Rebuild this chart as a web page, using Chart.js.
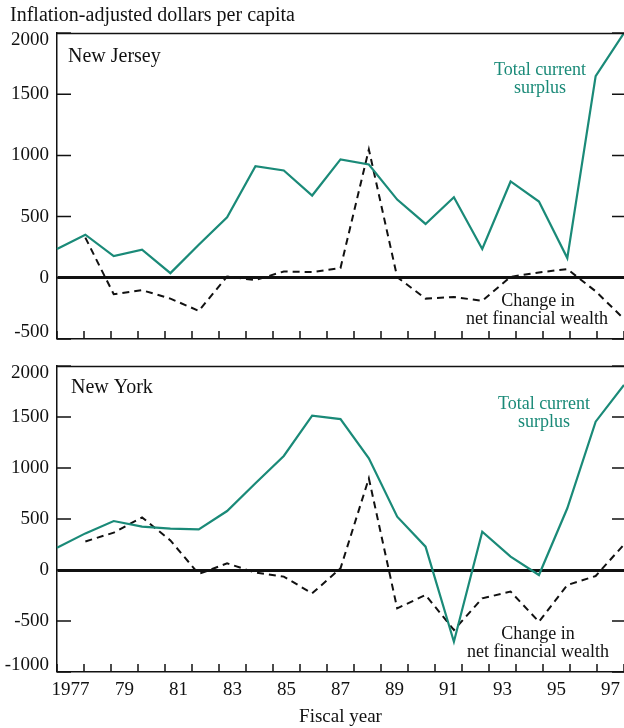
<!DOCTYPE html>
<html><head><meta charset="utf-8">
<script src="https://cdn.jsdelivr.net/npm/chart.js@4/dist/chart.umd.min.js"></script>
<style>
html,body{margin:0;padding:0;background:#fff;}
body{width:624px;height:728px;position:relative;overflow:hidden;font-family:'Liberation Serif','Times New Roman',serif;}
#hdr{position:absolute;left:10px;top:4px;font-size:20px;line-height:20px;color:#111;white-space:nowrap;}
#c1{position:absolute;left:0;top:0;}
#c2{position:absolute;left:0;top:345px;}
</style></head><body>
<canvas id="c1" width="624" height="345"></canvas>
<canvas id="c2" width="624" height="383"></canvas>
<div id="hdr">Inflation-adjusted dollars per capita</div>
<script>
// ---- data ----
const years = [1977,1978,1979,1980,1981,1982,1983,1984,1985,1986,1987,1988,1989,1990,1991,1992,1993,1994,1995,1996,1997];
const tickLabels = ['1977','79','81','83','85','87','89','91','93','95','97'];
const njSurplus = [235,352,178,230,38,270,495,912,877,672,967,926,639,440,658,235,787,623,161,1648,2000];
const njWealth  = [null,328,-134,-101,-170,-270,11,-19,52,47,80,1049,5,-170,-156,-189,8,44,71,-110,-336];
const nySurplus = [219,359,480,425,405,399,578,850,1118,1513,1480,1095,523,229,-703,376,131,-49,605,1454,1814];
const nyWealth  = [null,280,366,516,290,-39,65,-25,-65,-229,16,899,-376,-245,-588,-278,-212,-507,-147,-59,250];
const njYTicks = [-500,0,500,1000,1500,2000];
const nyYTicks = [-1000,-500,0,500,1000,1500,2000];

// ---- style ----
const FONT = "'Liberation Serif','Times New Roman',serif";
const TEAL = '#1a8a78';
const INK = '#111111';

function framePlugin(notes) {
  return {
    id: 'frame',
    afterDraw(chart) {
      const ctx = chart.ctx, a = chart.chartArea;
      const y = chart.scales.y, xt = chart.scales.xt;
      ctx.save();
      ctx.strokeStyle = INK;
      ctx.lineWidth = 1.5;
      ctx.beginPath();
      ctx.moveTo(a.left, a.top + 0.5);
      ctx.lineTo(a.right, a.top + 0.5);
      y.ticks.forEach(t => {
        const py = y.getPixelForValue(t.value);
        ctx.moveTo(a.left, py); ctx.lineTo(a.left + 14, py);
        ctx.moveTo(a.right - 12, py); ctx.lineTo(a.right, py);
      });
      for (let k = Math.ceil(xt.min); k <= xt.max; k++) {
        const px = xt.getPixelForValue(k);
        ctx.moveTo(px, a.bottom); ctx.lineTo(px, a.bottom - 8);
      }
      ctx.stroke();
      notes.forEach(n => {
        ctx.font = n.size + 'px ' + FONT;
        ctx.fillStyle = n.color;
        ctx.textAlign = n.align;
        ctx.textBaseline = 'alphabetic';
        ctx.fillText(n.text, n.x, n.y);
      });
      ctx.restore();
    }
  };
}

function makeChart(id, surplus, wealth, yTicks, padTop, xHeight, showX, notes) {
  const yMin = yTicks[0], yMax = yTicks[yTicks.length - 1];
  return new Chart(document.getElementById(id), {
    type: 'line',
    data: {
      labels: years.map(String),
      datasets: [
        { data: surplus, borderColor: TEAL, borderWidth: 2.2, pointRadius: 0, tension: 0, fill: false, xAxisID: 'x', yAxisID: 'y' },
        { data: wealth, borderColor: INK, borderWidth: 2, borderDash: [7,5], pointRadius: 0, tension: 0, fill: false, spanGaps: false, xAxisID: 'x', yAxisID: 'y' }
      ]
    },
    options: {
      responsive: false, animation: false, devicePixelRatio: 1,
      layout: { padding: { top: padTop, left: 0, right: 0, bottom: 0 } },
      plugins: { legend: { display: false }, tooltip: { enabled: false }, title: { display: false } },
      scales: {
        x: { type: 'category', display: false, offset: false },
        xt: {
          type: 'linear', position: 'bottom', min: 0, max: 21,
          afterBuildTicks: s => { s.ticks = tickLabels.map((_, i) => ({ value: 0.5 + 2 * i })); },
          afterFit: s => { s.height = xHeight; s.paddingLeft = 0; s.paddingRight = 0; },
          border: { display: true, color: INK, width: 1.5 },
          grid: { display: false, drawTicks: false },
          ticks: { display: showX, autoSkip: false, maxRotation: 0, minRotation: 0, padding: 7, color: INK,
                   font: { family: FONT, size: 19 }, callback: (v, i) => tickLabels[i] },
          title: { display: showX, text: 'Fiscal year', color: INK, font: { family: FONT, size: 19 }, padding: { top: 0, bottom: 0 } }
        },
        y: {
          type: 'linear', position: 'left', min: yMin, max: yMax,
          afterBuildTicks: s => { s.ticks = yTicks.map(v => ({ value: v })); },
          afterFit: s => { s.width = 57; s.paddingTop = 0; s.paddingBottom = 0; },
          border: { display: true, color: INK, width: 1.5 },
          grid: {
            drawTicks: false,
            color: c => (c.tick && c.tick.value === 0) ? INK : 'rgba(0,0,0,0)',
            lineWidth: c => (c.tick && c.tick.value === 0) ? 3 : 0
          },
          ticks: {
            padding: 8, color: INK,
            font: c => ({ family: FONT, size: 19,
              lineHeight: (c.tick && (c.tick.value === yMin || c.tick.value === yMax)) ? '14px' : 1.2 }),
            callback: v => v === yMax ? ['', String(v)] : (v === yMin ? [String(v), ''] : String(v))
          }
        }
      }
    },
    plugins: [framePlugin(notes)]
  });
}

makeChart('c1', njSurplus, njWealth, njYTicks, 33, 6, false, [
  { text: 'New Jersey', x: 68, y: 62, color: INK, size: 20, align: 'left' },
  { text: 'Total current', x: 540, y: 75, color: TEAL, size: 18, align: 'center' },
  { text: 'surplus', x: 540, y: 93, color: TEAL, size: 18, align: 'center' },
  { text: 'Change in', x: 538, y: 306, color: INK, size: 18, align: 'center' },
  { text: 'net financial wealth', x: 537, y: 324, color: INK, size: 18, align: 'center' }
]);

makeChart('c2', nySurplus, nyWealth, nyYTicks, 21, 56, true, [
  { text: 'New York', x: 71, y: 48, color: INK, size: 20, align: 'left' },
  { text: 'Total current', x: 544, y: 64, color: TEAL, size: 18, align: 'center' },
  { text: 'surplus', x: 544, y: 82, color: TEAL, size: 18, align: 'center' },
  { text: 'Change in', x: 538, y: 294, color: INK, size: 18, align: 'center' },
  { text: 'net financial wealth', x: 538, y: 312, color: INK, size: 18, align: 'center' }
]);
</script>
</body></html>
